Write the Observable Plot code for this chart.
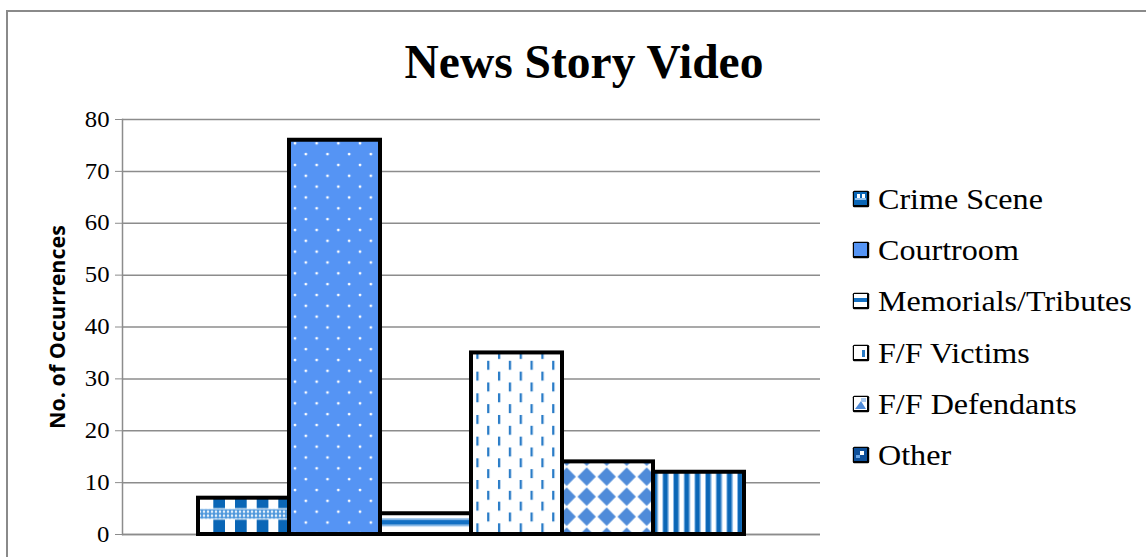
<!DOCTYPE html>
<html><head><meta charset="utf-8">
<script src="https://cdn.jsdelivr.net/npm/d3@7"></script>
<script src="https://cdn.jsdelivr.net/npm/@observablehq/plot@0.6"></script>
<style>
html,body{margin:0;padding:0;background:#fff;overflow:hidden}
#wrap{position:relative;width:1146px;height:557px;overflow:hidden;background:#fff}
#frame{position:absolute;left:6px;top:10px;width:1300px;height:800px;border:2px solid #8a8a8a;box-sizing:border-box}
#chart{position:absolute;left:0;top:0}
#title{position:absolute;left:0;width:1168px;top:39px;text-align:center;font-family:"Liberation Serif";font-weight:bold;font-size:47.5px;line-height:47.5px;white-space:nowrap}
#title span{display:inline-block;transform:scaleX(1.0);transform-origin:50% 50%}
.lg{position:absolute;left:851px;height:34px;display:flex;align-items:center;white-space:nowrap}
.lg svg{flex:none}
.lg span{display:inline-block;font-family:"Liberation Serif";font-size:30px;line-height:34px;margin-left:7px;transform:scaleX(1.07);transform-origin:0 50%}
</style></head>
<body><div id="wrap"><div id="frame"></div><div id="chart"></div><div id="title"><span>News Story Video</span></div><div id="legend"></div></div>
<script>
const series = ["Crime Scene","Courtroom","Memorials/Tributes","F/F Victims","F/F Defendants","Other"];
const values = [7, 76, 4, 35, 14, 12];
const yTicks = [0,10,20,30,40,50,60,70,80];
const patternIds = ["p-crime","p-court","p-memo","p-vict","p-def","p-other"];
const yLabel = "No. of Occurrences";
const titleText = "News Story Video";

const data = series.map((s,i)=>({series:s, value:values[i], fill:`url(#${patternIds[i]})`}));

const plot = Plot.plot({
  width:1146, height:557,
  marginLeft:122, marginRight:326, marginTop:119, marginBottom:23,
  style:{background:"transparent", overflow:"visible"},
  x:{type:"band", domain:series, paddingInner:0, paddingOuter:0.835, axis:null},
  y:{domain:[0,80], axis:null},
  marks:[
    Plot.gridY(yTicks, {stroke:"#8c8c8c", strokeOpacity:1, strokeWidth:1.5}),
    Plot.ruleY([0], {stroke:"#8c8c8c", strokeWidth:1.5}),
    Plot.frame({anchor:"left", stroke:"#8c8c8c", strokeWidth:1.5}),
    Plot.axisY(yTicks, {anchor:"left", tickSize:7, tickPadding:6, stroke:"#8c8c8c", color:"black", fontSize:22.5, fontFamily:"Liberation Serif", label:null}),
    Plot.barY(data, {x:"series", y:"value", fill:"fill", stroke:"black", strokeWidth:4, strokeLinejoin:"miter"}),
    Plot.text([yLabel], {frameAnchor:"left", dx:-64, rotate:-90, textAnchor:"middle", lineAnchor:"middle", fontSize:21.5, fontWeight:"bold", fontFamily:"Open Sans", fill:"black"})
  ]
});

const ns = "http://www.w3.org/2000/svg";
const defs = document.createElementNS(ns, "defs");
const dark = "#0a66b6", light = "#8fbde9";
defs.innerHTML = `
<pattern id="p-crime-band" patternUnits="userSpaceOnUse" width="4" height="4">
  <rect width="4" height="4" fill="#4f98dc"/><circle cx="2" cy="2" r="1.2" fill="#fff"/>
</pattern>
<pattern id="p-crime" patternUnits="objectBoundingBox" x="0" y="0" width="1" height="1">
  <rect width="300" height="300" fill="#fff"/>
  <rect x="15.3" width="11.7" height="300" fill="${dark}"/>
  <rect x="37" width="11.7" height="300" fill="${dark}"/>
  <rect x="58.7" width="11.7" height="300" fill="${dark}"/>
  <rect x="80.3" width="11.7" height="300" fill="${dark}"/>
  <rect y="10.5" width="300" height="11.5" fill="#fff"/>
  <rect y="11.5" width="300" height="9.5" fill="url(#p-crime-band)"/>
</pattern>
<pattern id="p-court" patternUnits="userSpaceOnUse" x="290" y="138.3" width="21.67" height="21.67">
  <rect width="22" height="22" fill="#5594f4"/>
  <circle cx="5" cy="5" r="1.4" fill="#fff"/><circle cx="15.83" cy="15.83" r="1.4" fill="#fff"/>
</pattern>
<pattern id="p-memo" patternUnits="objectBoundingBox" x="0" y="0" width="1" height="1">
  <rect width="300" height="300" fill="#fff"/>
  <rect y="5" width="300" height="1.6" fill="${light}"/>
  <rect y="6.6" width="300" height="5" fill="#1370c4"/>
  <rect y="11.6" width="300" height="1.6" fill="${light}"/>
</pattern>
<pattern id="p-vict" patternUnits="userSpaceOnUse" x="476.3" y="393.3" width="21.67" height="21.67">
  <rect width="22" height="22" fill="#fff"/>
  <rect x="0" y="0" width="2.3" height="9" fill="#2a7cc7"/>
  <rect x="10.83" y="10.83" width="2.3" height="9" fill="#2a7cc7"/>
</pattern>
<pattern id="p-def" patternUnits="userSpaceOnUse" x="576.7" y="466.7" width="20" height="20">
  <rect width="20" height="20" fill="#fff"/>
  <path d="M10,0.8L19.2,10L10,19.2L0.8,10Z" fill="#4f8bd9"/>
</pattern>
<pattern id="p-other" patternUnits="userSpaceOnUse" x="662.3" y="0" width="10.67" height="10">
  <rect width="11" height="10" fill="#fff"/>
  <rect x="0" width="1" height="10" fill="${light}"/>
  <rect x="1" width="4.6" height="10" fill="${dark}"/>
  <rect x="5.6" width="1" height="10" fill="${light}"/>
</pattern>`;
plot.insertBefore(defs, plot.firstChild);

// widen serif tick labels like the reference
plot.querySelectorAll('g[aria-label="y-axis tick label"] text').forEach(t => {
  const tr = t.getAttribute("transform") || "";
  t.setAttribute("transform", tr + " scale(1.1,1)");
});
document.getElementById("chart").appendChild(plot);

// legend
const markerInner = [
  `<rect x="3" y="3" width="13" height="13" fill="${dark}"/><rect x="6" y="5" width="3" height="4" fill="#fff"/><rect x="11" y="5" width="3" height="4" fill="#fff"/><rect x="4" y="9" width="11" height="2" fill="#8fc0ee"/>`,
  `<rect x="3" y="3" width="13" height="13" fill="#5594f4"/>`,
  `<rect x="3" y="3" width="13" height="13" fill="#fff"/><rect x="3" y="7" width="13" height="4" fill="#1370c4"/>`,
  `<rect x="3" y="3" width="13" height="13" fill="#fff"/><rect x="11" y="7" width="3" height="7" fill="#2a7cc7"/>`,
  `<rect x="3" y="3" width="13" height="13" fill="#fff"/><path d="M4,15L10,7L15,15Z" fill="#4f8bd9"/><rect x="10" y="4" width="5" height="4" fill="#a8c8ef"/>`,
  `<rect x="3" y="3" width="13" height="13" fill="#0d4f9a"/><rect x="9" y="6" width="4" height="4" fill="#fff"/><rect x="5" y="10" width="4" height="3" fill="#6aa6e6"/>`
];
const legend = document.getElementById("legend");
series.forEach((s,i) => {
  const row = document.createElement("div");
  row.className = "lg";
  row.style.top = (199 + i*51.2 - 17) + "px";
  row.innerHTML = `<svg width="20" height="20" viewBox="0 0 20 20"><rect x="1.8" y="1.8" width="16.4" height="16.4" rx="1.5" fill="#000"/>${markerInner[i]}</svg><span></span>`;
  row.querySelector("span").textContent = s;
  legend.appendChild(row);
});
</script></body></html>
